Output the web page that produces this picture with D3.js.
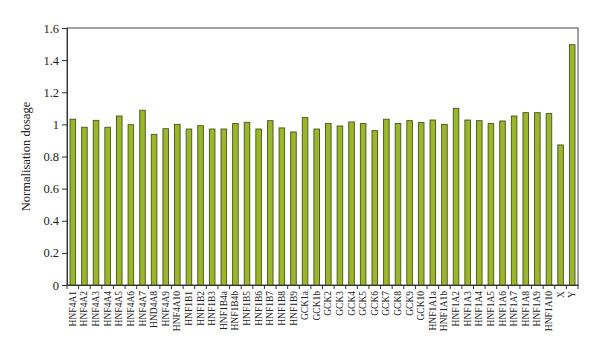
<!DOCTYPE html>
<html>
<head>
<meta charset="utf-8">
<script src="https://d3js.org/d3.v7.min.js"></script>
<style>
  body { margin: 0; background: #fff; }
  svg text { font-family: "Liberation Serif", "DejaVu Serif", serif; fill: #222; }
</style>
</head>
<body>
<svg id="svg" width="600" height="355"></svg>
<script>
let categories = ['HNF4A1', 'HNF4A2', 'HNF4A3', 'HNF4A4', 'HNF4A5', 'HNF4A6', 'HNF4A7', 'HND4A8', 'HNF4A9', 'HNF4A10',
  'HNF1B1', 'HNF1B2', 'HNF1B3', 'HNF1B4a', 'HNF1B4b', 'HNF1B5', 'HNF1B6', 'HNF1B7', 'HNF1B8', 'HNF1B9',
  'GCK1a', 'GCK1b', 'GCK2', 'GCK3', 'GCK4', 'GCK5', 'GCK6', 'GCK7', 'GCK8', 'GCK9', 'GCK10',
  'HNF1A1a', 'HNF1A1b', 'HNF1A2', 'HNF1A3', 'HNF1A4', 'HNF1A5', 'HNF1A6', 'HNF1A7', 'HNF1A8', 'HNF1A9', 'HNF1A10',
  'X', 'Y'];
let dosage = [1.032, 0.982, 1.025, 0.982, 1.052, 0.998, 1.088, 0.938, 0.973, 1.0,
  0.971, 0.992, 0.971, 0.971, 1.005, 1.013, 0.971, 1.023, 0.978, 0.953,
  1.042, 0.971, 1.005, 0.990, 1.015, 1.005, 0.961, 1.032, 1.005, 1.023, 1.011,
  1.027, 1.0, 1.10, 1.027, 1.023, 1.005, 1.021, 1.052, 1.073, 1.073, 1.067,
  0.872, 1.496];
let yTicks = [0, 0.2, 0.4, 0.6, 0.8, 1, 1.2, 1.4, 1.6];

let margin = {top: 28, bottom: 70, left: 67, right: 22};
let svgWidth = 600;
let svgHeight = 355;
let width = svgWidth - margin.left - margin.right;
let height = svgHeight - margin.top - margin.bottom;

let svg = d3.select('#svg');
let gChart = svg.append('g')
  .attr('transform', `translate(${margin.left},${margin.top})`);

let xScale = d3.scaleBand()
  .domain(categories)
  .range([0, width])
  .paddingInner(0.52)
  .paddingOuter(0.26);
let yScale = d3.scaleLinear()
  .domain([0, 1.6])
  .range([height, 0]);

// plot frame
gChart.append('rect')
  .attr('width', width)
  .attr('height', height)
  .attr('fill', 'none')
  .attr('stroke', '#444')
  .attr('stroke-width', 1);

// bars
gChart.append('g')
  .selectAll('rect')
  .data(categories)
  .enter()
  .append('rect')
  .attr('x', d => xScale(d))
  .attr('y', (d, i) => yScale(dosage[i]))
  .attr('width', xScale.bandwidth())
  .attr('height', (d, i) => yScale(0) - yScale(dosage[i]))
  .attr('fill', '#9cb62c')
  .attr('stroke', '#45531a')
  .attr('stroke-width', 0.9);

// y axis
let yAxis = d3.axisLeft(yScale)
  .tickValues(yTicks)
  .tickSize(5)
  .tickPadding(3)
  .tickFormat(d => d3.format('')(+d.toFixed(1)));
let gYAxis = gChart.append('g').call(yAxis);
gYAxis.select('.domain').attr('stroke', '#333');
gYAxis.selectAll('.tick line').attr('stroke', '#333');
gYAxis.selectAll('.tick text')
  .attr('font-size', 12.5)
  .attr('font-family', '"Liberation Serif", serif')
  .attr('fill', '#222');

// x axis: labels under bars, ticks between categories
let xAxis = d3.axisBottom(xScale).tickSize(0).tickPadding(0);
let gXAxis = gChart.append('g')
  .attr('transform', `translate(0,${height})`)
  .call(xAxis);
gXAxis.select('.domain').attr('stroke', '#333');
gXAxis.selectAll('.tick text')
  .attr('font-size', 9.5)
  .attr('font-family', '"Liberation Serif", serif')
  .attr('fill', '#222')
  .attr('text-anchor', 'end')
  .attr('dy', '0.32em')
  .attr('transform', 'translate(0,6) rotate(-90)')
  .attr('x', 0)
  .attr('y', 0);

let gap = (xScale.step() - xScale.bandwidth()) / 2;
let boundaries = categories.map(d => xScale(d) - gap).concat([width]);
gXAxis.selectAll('.sep')
  .data(boundaries)
  .enter()
  .append('line')
  .attr('class', 'sep')
  .attr('x1', d => d)
  .attr('x2', d => d)
  .attr('y1', 0)
  .attr('y2', 4)
  .attr('stroke', '#333');

// y title
svg.append('text')
  .attr('transform', `translate(30,${margin.top + height / 2}) rotate(-90)`)
  .attr('text-anchor', 'middle')
  .attr('font-size', 12.5)
  .text('Normalisation dosage');
</script>
</body>
</html>
